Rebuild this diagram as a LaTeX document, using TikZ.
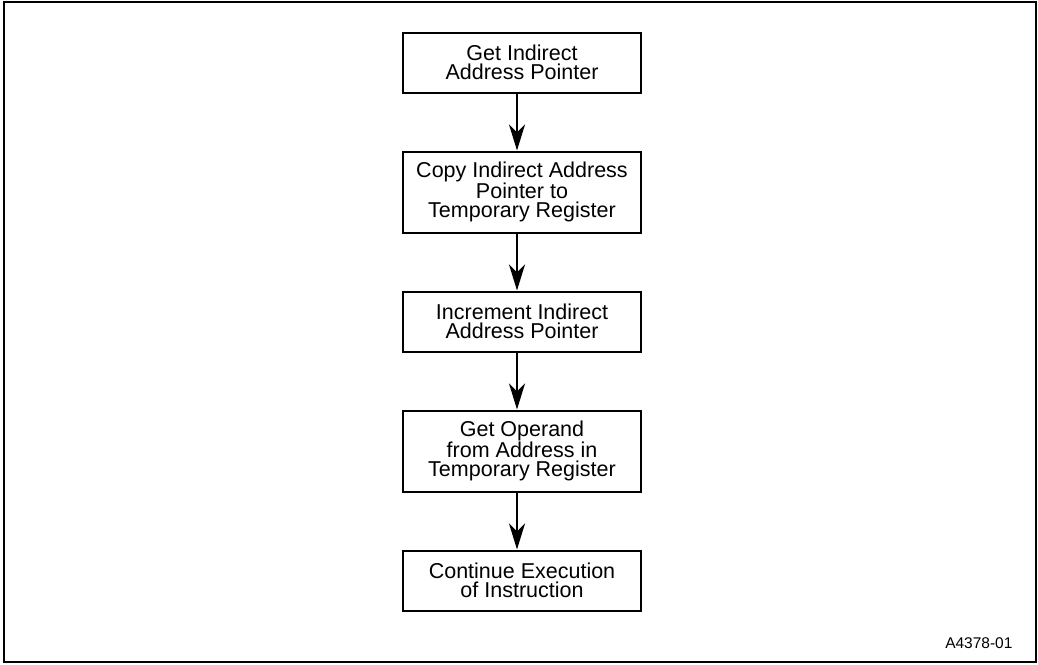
\documentclass[tikz,border=0pt]{standalone}
\usepackage{fontspec}
\setmainfont{Liberation Sans}
\usepackage{tikz}
\usetikzlibrary{positioning, arrows.meta, calc}

\tikzset{
	stepbox/.style={draw, line width=2pt, minimum width=238pt, minimum height=60pt, align=center, inner sep=2pt, font=\fontsize{21.5}{19.5}\selectfont},
	tallbox/.style={stepbox, minimum height=81pt},
	flow/.style={line width=2pt, -{Stealth[length=26pt, width=16pt, inset=8pt]}}
}

\begin{document}
\begin{tikzpicture}[node distance=57pt]
	\useasboundingbox (0,0) rectangle (1038pt,-664pt);
	\draw[line width=2pt] (4pt,-2pt) rectangle (1036pt,-662pt);
	\node[stepbox] (get) at (522pt,-62.5pt) {Get Indirect\\Address Pointer};
	\node[tallbox, below =of get] (copy) {Copy Indirect Address\\Pointer to\\Temporary Register};
	\node[stepbox, below =of copy] (inc) {Increment Indirect\\Address Pointer};
	\node[tallbox, below =of inc] (operand) {Get Operand\\from Address in\\Temporary Register};
	\node[stepbox, below =of operand] (cont) {Continue Execution\\of Instruction};
	\node[anchor=east, font=\fontsize{15.5}{18}\selectfont] (fig) at (1016pt,-643pt) {A4378-01};
	\draw
	([xshift=-5pt]get.south) edge[flow] ([xshift=-5pt]copy.north)
	([xshift=-5pt]copy.south) edge[flow] ([xshift=-5pt]inc.north)
	([xshift=-5pt]inc.south) edge[flow] ([xshift=-5pt]operand.north)
	([xshift=-5pt]operand.south) edge[flow] ([xshift=-5pt]cont.north);
\end{tikzpicture}
\end{document}
